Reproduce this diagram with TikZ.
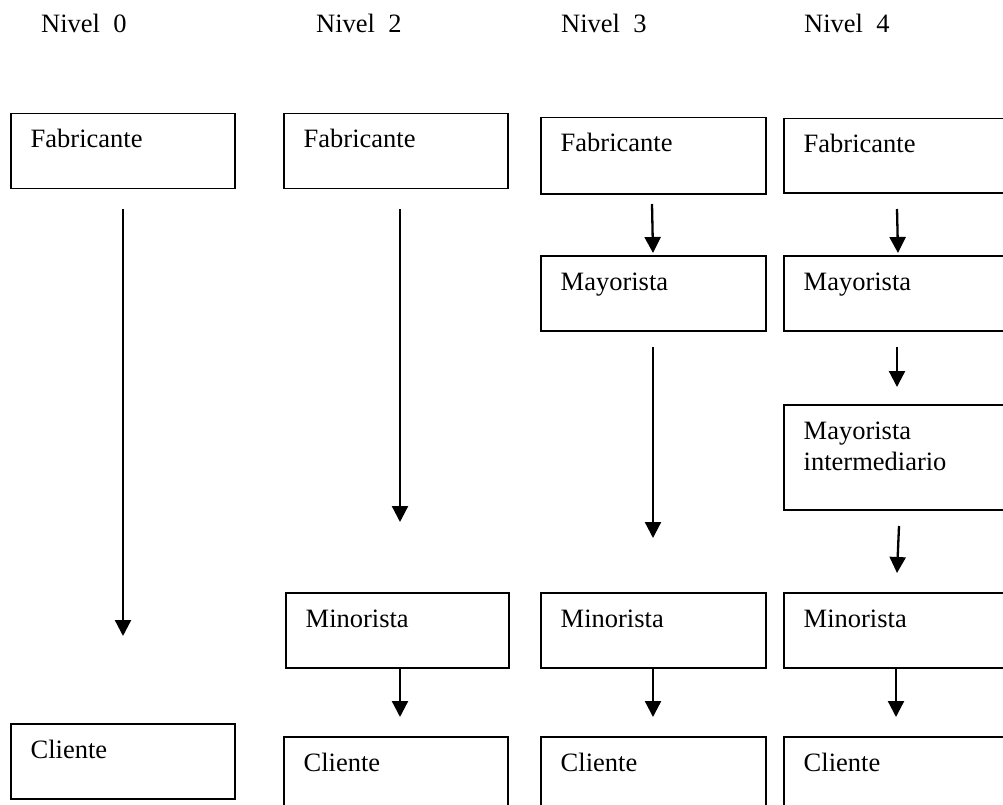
\documentclass[tikz,border=0pt]{standalone}
\usepackage{fontspec}
\setmainfont{Liberation Serif}
\usetikzlibrary{arrows.meta}

% a channel box: name, left x, top y, width, height, text
\newcommand\chbox[6]{%
  \node[chanbox, minimum width=#4pt, minimum height=#5pt, anchor=north west] (#1) at (#2,#3) {};
  \node[boxtext, anchor=base west] (#1-t) at ([xshift=20.5pt,yshift=-35pt]#1.north west)
    {\begin{tabular}[t]{@{}l@{}}#6\end{tabular}};}

\begin{document}
\begin{tikzpicture}[x=1pt, y=-1pt,
  chanbox/.style={draw=black, line width=1.5pt, inner sep=0pt},
  boxtext/.style={inner sep=0pt, font=\fontsize{26.5}{31}\selectfont},
  header/.style={inner sep=0pt, anchor=base west, font=\fontsize{26.5}{31}\selectfont},
  flow/.style={line width=2.3pt, -{Triangle[width=16pt, length=16pt]}}]
  \useasboundingbox (0,0) rectangle (1003,805);

  % column headers
  \node[header] (h0) at (41,33) {Nivel\ \ 0};
  \node[header] (h2) at (316,33) {Nivel\ \ 2};
  \node[header] (h3) at (561,33) {Nivel\ \ 3};
  \node[header] (h4) at (804,33) {Nivel\ \ 4};

  % level 0
  \chbox{f0}{10}{113}{224}{75}{Fabricante}
  \chbox{c0}{10}{723}{224}{75}{Cliente}

  % level 2
  \chbox{f2}{283}{113}{224}{75}{Fabricante}
  \chbox{m2}{285}{592}{223}{75}{Minorista}
  \chbox{c2}{283}{736}{224}{76}{Cliente}

  % level 3
  \chbox{f3}{540}{117}{225}{76}{Fabricante}
  \chbox{y3}{540}{255}{225}{75}{Mayorista}
  \chbox{m3}{540}{592}{225}{75}{Minorista}
  \chbox{c3}{540}{736}{225}{76}{Cliente}

  % level 4
  \chbox{f4}{783}{118}{224}{74}{Fabricante}
  \chbox{y4}{783}{255}{224}{75}{Mayorista}
  \chbox{i4}{783}{404}{224}{105}{Mayorista\\intermediario}
  \chbox{m4}{783}{592}{224}{75}{Minorista}
  \chbox{c4}{783}{736}{224}{76}{Cliente}

  % free ends of the flow arrows
  \coordinate (a0s) at (123,209);  \coordinate (a0e) at (123,636);
  \coordinate (a2s) at (400,209);  \coordinate (a2e) at (400,522);
  \coordinate (b2e) at (400,717);
  \coordinate (a3s) at (652,204);  \coordinate (a3e) at (653,253);
  \coordinate (b3s) at (653,347);  \coordinate (b3e) at (653,538);
  \coordinate (c3e) at (653,717);
  \coordinate (a4s) at (897,209);  \coordinate (a4e) at (898,253);
  \coordinate (b4s) at (897,347);  \coordinate (b4e) at (897,387);
  \coordinate (d4s) at (899,526);  \coordinate (d4e) at (897,573);
  \coordinate (e4e) at (896,717);

  % flows
  \draw[flow] (a0s) -- (a0e);
  \draw[flow] (a2s) -- (a2e);
  \draw[flow] (m2.south -| b2e) -- (b2e);
  \draw[flow] (a3s) -- (a3e);
  \draw[flow] (b3s) -- (b3e);
  \draw[flow] (m3.south -| c3e) -- (c3e);
  \draw[flow] (a4s) -- (a4e);
  \draw[flow] (b4s) -- (b4e);
  \draw[flow] (d4s) -- (d4e);
  \draw[flow] (m4.south -| e4e) -- (e4e);
\end{tikzpicture}
\end{document}
